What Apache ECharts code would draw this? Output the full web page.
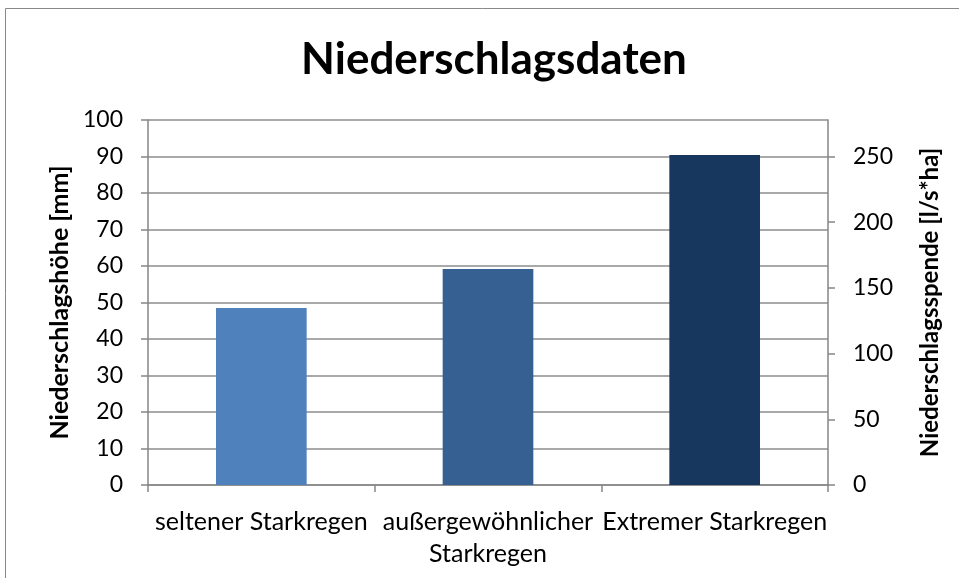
<!DOCTYPE html>
<html>
<head>
<meta charset="utf-8">
<script src="https://cdn.jsdelivr.net/npm/echarts@6/dist/echarts.min.js"></script>
<style>
  html, body { margin: 0; padding: 0; background: #fff; }
  #chart { width: 959px; height: 578px; }
</style>
</head>
<body>
<div id="chart"></div>
<script>
// Niederschlagsdaten
var categories = ['seltener Starkregen', 'außergewöhnlicher\nStarkregen', 'Extremer Starkregen'];
var hoehe = [48.5, 59.2, 90.4];          // Niederschlagshöhe [mm]
var barColors = ['#4f81bd', '#376092', '#17375e'];
var rightTicks = [0, 50, 100, 150, 200, 250];   // Niederschlagsspende [l/s*ha]

var font = 'Lato, "Open Sans", sans-serif';

var option = {
    animation: false,
    backgroundColor: '#fff',
    title: {
        text: 'Niederschlagsdaten',
        left: 489,
        textAlign: 'center',
        top: 33,
        textStyle: { fontFamily: font, fontSize: 44, fontWeight: 'bold', color: '#000' }
    },
    graphic: [{
        type: 'rect',
        shape: { x: 5.5, y: 8.5, width: 960, height: 600 },
        style: { fill: 'none', stroke: '#888', lineWidth: 1 },
        silent: true
    }],
    grid: { left: 148, right: 131, top: 120, bottom: 93 },
    xAxis: {
        type: 'category',
        data: categories,
        axisLine: { lineStyle: { color: '#868686', width: 1.5 } },
        axisTick: { show: true, length: 7, lineStyle: { color: '#868686', width: 1.5 } },
        axisLabel: {
            interval: 0, margin: 21, color: '#000',
            fontFamily: font, fontSize: 25, lineHeight: 32
        }
    },
    yAxis: [
        {
            type: 'value',
            min: 0, max: 100, interval: 10,
            name: 'Niederschlagshöhe [mm]',
            nameLocation: 'middle',
            nameGap: 76,
            nameTextStyle: { fontFamily: font, fontSize: 25, fontWeight: 'bold', color: '#000' },
            axisLine: { show: true, lineStyle: { color: '#868686', width: 1.5 } },
            axisTick: { show: true, length: 7, lineStyle: { color: '#868686', width: 1.5 } },
            axisLabel: { margin: 25, color: '#000', fontFamily: font, fontSize: 23 },
            splitLine: { show: true, lineStyle: { color: '#8c8c8c', width: 1.5 } }
        },
        {
            type: 'value',
            min: 0, max: 277.78,
            name: 'Niederschlagsspende [l/s*ha]',
            nameLocation: 'middle',
            nameGap: 90,
            nameRotate: 90,
            nameTextStyle: { fontFamily: font, fontSize: 24, fontWeight: 'bold', color: '#000' },
            axisLine: { show: true, lineStyle: { color: '#868686', width: 1.5 } },
            axisTick: { show: true, length: 7, customValues: rightTicks, lineStyle: { color: '#868686', width: 1.5 } },
            axisLabel: { margin: 25, customValues: rightTicks, color: '#000', fontFamily: font, fontSize: 23 },
            splitLine: { show: false }
        }
    ],
    series: [{
        type: 'bar',
        yAxisIndex: 0,
        barWidth: '40%',
        data: hoehe.map(function (v, i) {
            return { value: v, itemStyle: { color: barColors[i] } };
        })
    }]
};

var myChart = echarts.init(document.getElementById('chart'));
myChart.setOption(option);
</script>
</body>
</html>
